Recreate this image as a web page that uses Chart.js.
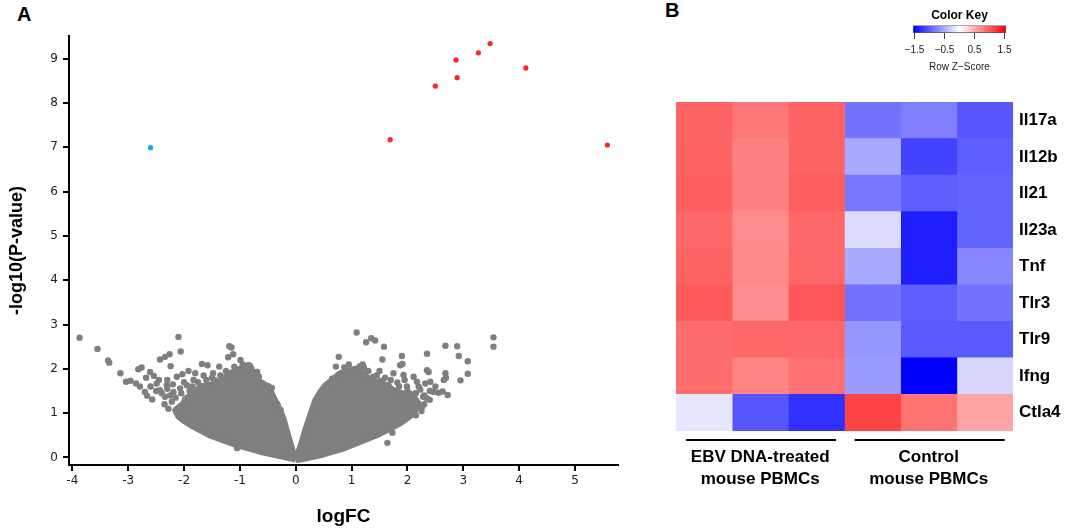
<!DOCTYPE html>
<html>
<head>
<meta charset="utf-8">
<script src="https://cdn.jsdelivr.net/npm/chart.js@4.4.1/dist/chart.umd.min.js"></script>
<style>
body { margin: 0; background: #fff; }
#wrap { position: relative; width: 1065px; height: 529px; overflow: hidden; font-family: 'Liberation Sans', Arial, sans-serif; }
canvas { position: absolute; }
.tag { position: absolute; font-weight: bold; font-size: 20px; line-height: 20px; color: #000; }
</style>
</head>
<body>
<div id="wrap">
  <div class="tag" style="left:17px;top:4px">A</div>
  <div class="tag" style="left:665px;top:0px">B</div>
  <canvas id="volcano" width="630" height="529" style="left:0;top:0"></canvas>
  <canvas id="heat" width="445" height="449" style="left:620px;top:80px"></canvas>
  <canvas id="key" width="160" height="80" style="left:880px;top:0"></canvas>
</div>
<script>
// ---- panel A: volcano plot (logFC, -log10 p) ----
var upGenes = [[1.69, 7.17], [2.50, 8.38], [2.87, 8.97], [2.89, 8.57], [3.27, 9.13], [3.48, 9.34], [4.12, 8.79], [5.58, 7.05]];
var downGenes = [[-2.60, 6.99]];

// outline of the dense grey cloud (each lobe)
var leftLobe = [[0, -0.05], [-0.64, 0.13], [-1.06, 0.28], [-1.54, 0.50], [-1.83, 0.69], [-2.01, 0.83], [-2.10, 0.92],
  [-2.16, 1.07], [-2.01, 1.22], [-1.98, 1.33], [-1.83, 1.44], [-1.71, 1.60], [-1.57, 1.63], [-1.42, 1.67], [-1.30, 1.78],
  [-1.18, 1.90], [-1.06, 1.97], [-0.91, 2.05], [-0.82, 2.08], [-0.70, 1.75], [-0.58, 1.67], [-0.49, 1.60], [-0.40, 1.37],
  [-0.31, 1.14], [-0.22, 0.88], [-0.13, 0.47], [-0.04, 0.09], [0, -0.05]];
var rightLobe = [[0, -0.05], [0.08, 0.24], [0.17, 0.62], [0.26, 0.96], [0.35, 1.29], [0.44, 1.48], [0.53, 1.63], [0.68, 1.78],
  [0.79, 1.90], [0.97, 1.97], [1.09, 2.01], [1.18, 1.93], [1.27, 1.82], [1.42, 1.71], [1.57, 1.67], [1.75, 1.52], [1.93, 1.44],
  [2.11, 1.37], [2.20, 1.22], [2.11, 0.99], [1.99, 0.88], [1.87, 0.77], [1.69, 0.65], [1.45, 0.50], [1.15, 0.35], [0.85, 0.20],
  [0.44, 0.05], [0.08, -0.05], [0, -0.05]];

// scattered grey genes outside the dense cloud
var leftScatter = [[-3.87, 2.70], [-3.55, 2.45], [-3.36, 2.19], [-3.34, 2.14], [-3.14, 1.90], [-3.04, 1.71], [-2.96, 1.73],
  [-2.86, 1.67], [-2.82, 1.99], [-2.76, 2.03], [-2.79, 1.60], [-2.70, 1.48], [-2.66, 1.39], [-2.57, 1.31], [-2.68, 1.80],
  [-2.61, 1.93], [-2.54, 1.84], [-2.49, 1.67], [-2.43, 2.21], [-2.34, 2.27], [-2.26, 2.33], [-2.24, 2.06], [-2.10, 2.72],
  [-2.06, 2.39], [-2.43, 1.52], [-2.34, 1.37], [-2.31, 1.63], [-2.19, 1.48], [-2.22, 1.26], [-2.13, 1.82], [-2.03, 1.88],
  [-1.92, 1.95], [-2.07, 1.56], [-1.95, 1.63], [-1.83, 1.75], [-1.68, 2.11], [-1.58, 2.08], [-1.48, 1.90], [-1.37, 2.05],
  [-1.19, 2.51], [-1.15, 2.48], [-1.21, 2.26], [-1.12, 2.33], [-0.99, 2.20], [-0.85, 2.08], [-0.81, 2.01], [-0.69, 1.93],
  [-0.66, 1.82], [-0.49, 1.61], [-0.43, 1.57], [-0.33, 1.20], [-0.27, 1.07], [-1.05, 0.21],
  [-2.40, 1.45], [-2.30, 1.55], [-2.25, 1.40], [-2.15, 1.35], [-2.05, 1.45], [-1.90, 1.50], [-1.85, 1.60], [-1.75, 1.70],
  [-1.60, 1.75], [-1.50, 1.80], [-1.45, 1.75], [-1.35, 1.85], [-1.25, 1.95], [-1.10, 2.05], [-0.95, 2.10], [-2.50, 1.50],
  [-2.60, 1.60], [-2.45, 1.75], [-2.30, 1.75], [-2.20, 1.65], [-2.00, 1.70], [-1.65, 1.85], [-1.80, 1.90], [-2.35, 1.20],
  [-2.28, 1.10]];
var rightScatter = [[1.09, 2.82], [1.26, 2.60], [1.35, 2.69], [1.42, 2.64], [1.58, 2.50], [0.77, 2.27], [1.55, 2.21],
  [1.90, 2.29], [1.87, 2.08], [1.91, 2.11], [2.35, 2.34], [2.68, 2.52], [2.89, 2.51], [2.92, 2.29], [3.08, 2.17], [3.08, 1.89],
  [2.95, 1.74], [3.54, 2.71], [3.54, 2.50], [2.68, 1.90], [2.69, 1.80], [2.65, 1.75], [2.47, 1.48], [2.56, 1.46], [2.63, 1.49],
  [2.72, 1.41], [2.35, 1.97], [2.38, 1.93], [2.32, 1.67], [2.23, 1.53], [2.28, 1.37], [2.05, 1.44], [2.12, 1.26], [2.18, 1.14],
  [1.73, 0.56], [1.64, 0.33], [0.72, 2.05], [0.87, 2.03], [1.00, 1.90], [1.15, 2.06], [1.22, 2.03], [1.39, 1.82], [1.52, 1.73],
  [1.66, 1.63], [1.82, 1.69], [1.99, 1.60], [2.17, 1.71], [1.75, 1.90], [2.11, 1.82], [1.93, 1.86], [2.41, 1.71], [1.99, 1.26],
  [2.26, 1.14], [2.35, 1.33], [1.90, 1.07], [0.56, 1.63], [0.65, 1.78],
  [1.30, 1.95], [1.45, 1.85], [1.60, 1.80], [1.70, 1.75], [1.85, 1.60], [2.00, 1.50], [2.15, 1.45], [2.30, 1.40], [2.40, 1.30],
  [2.30, 1.20], [2.25, 1.05], [2.40, 1.50], [2.50, 1.60], [2.20, 1.60], [1.95, 1.75], [1.50, 1.95], [1.20, 2.10], [0.95, 2.10],
  [2.05, 1.10], [2.15, 0.95]];

// ---- panel B: heatmap (row z-scores) ----
var genes = ['Il17a', 'Il12b', 'Il21', 'Il23a', 'Tnf', 'Tlr3', 'Tlr9', 'Ifng', 'Ctla4'];
var samples = ['EBV 1', 'EBV 2', 'EBV 3', 'Control 1', 'Control 2', 'Control 3'];
var groupLabels = [['EBV DNA-treated', 'mouse PBMCs'], ['Control', 'mouse PBMCs']];
var zIl17a = [0.94, 0.82, 0.94, -0.85, -0.77, -1.03];
var zIl12b = [0.95, 0.77, 0.94, -0.52, -1.15, -0.97];
var zIl21 = [0.97, 0.77, 0.98, -0.82, -0.97, -0.94];
var zIl23a = [0.92, 0.70, 0.91, -0.21, -1.37, -0.94];
var zTnf = [0.94, 0.71, 0.92, -0.52, -1.37, -0.73];
var zTlr3 = [1.00, 0.69, 1.02, -0.85, -0.97, -0.85];
var zTlr9 = [0.89, 0.93, 0.92, -0.64, -1.00, -1.00];
var zIfng = [0.89, 0.74, 0.87, -0.61, -1.55, -0.24];
var zCtla4 = [-0.15, -1.03, -1.25, 1.14, 0.85, 0.55];
var zRows = [zIl17a, zIl12b, zIl21, zIl23a, zTnf, zTlr3, zTlr9, zIfng, zCtla4];

var zLimit = 1.55;
var keyTicks = [-1.5, -0.5, 0.5, 1.5];

function toPts(arr) {
  return arr.map(function (p) { return { x: p[0], y: p[1] }; });
}

// blue - white - red
function zColor(z) {
  var t = Math.max(-1, Math.min(1, z / zLimit));
  var v = Math.round(255 * (1 - Math.abs(t)));
  return t >= 0 ? 'rgb(255,' + v + ',' + v + ')' : 'rgb(' + v + ',' + v + ',255)';
}

var grey = '#7f7f7f';
var tickFont = { family: 'DejaVu Sans', size: 12 };

function lobe(data) {
  return {
    type: 'line', data: toPts(data), showLine: true, fill: 'shape',
    backgroundColor: grey, borderColor: grey, borderWidth: 6, borderJoinStyle: 'round',
    pointRadius: 0, tension: 0
  };
}

new Chart(document.getElementById('volcano'), {
  type: 'scatter',
  data: {
    datasets: [
      { data: toPts(upGenes), backgroundColor: '#ff2424', borderWidth: 0, pointRadius: 2.6 },
      { data: toPts(downGenes), backgroundColor: '#1aa9ef', borderWidth: 0, pointRadius: 2.6 },
      { data: toPts(leftScatter.concat(rightScatter)), backgroundColor: grey, borderWidth: 0, pointRadius: 3.2 },
      lobe(leftLobe),
      lobe(rightLobe)
    ]
  },
  options: {
    responsive: false,
    animation: false,
    layout: { padding: { top: 36, right: 12, left: 0, bottom: 0 } },
    plugins: { legend: { display: false }, tooltip: { enabled: false } },
    scales: {
      x: {
        type: 'linear', min: -4.06, max: 5.77,
        afterFit: function (s) { s.height = 64; },
        border: { color: '#000', width: 2 },
        grid: { drawOnChartArea: false, color: '#000', lineWidth: 2, tickLength: 6 },
        ticks: { stepSize: 1, includeBounds: false, color: '#222', font: tickFont, padding: 3 },
        title: { display: true, text: 'logFC', color: '#000', font: { family: 'Liberation Sans', size: 19, weight: 'bold' }, padding: { top: 0, bottom: 1 } }
      },
      y: {
        min: -0.17, max: 9.51,
        afterFit: function (s) { s.width = 69; },
        border: { color: '#000', width: 2 },
        grid: { drawOnChartArea: false, color: '#000', lineWidth: 2, tickLength: 6 },
        ticks: { stepSize: 1, includeBounds: false, color: '#222', font: tickFont, padding: 5 },
        title: { display: true, text: '-log10(P-value)', color: '#000', font: { family: 'Liberation Sans', size: 18, weight: 'bold' }, padding: { top: 6, bottom: 0 } }
      }
    }
  }
});

// lines under the two sample groups
var groupLines = {
  id: 'groupLines',
  afterDraw: function (chart) {
    var ctx = chart.ctx, x = chart.scales.x, y = chart.chartArea.bottom + 9;
    ctx.save();
    ctx.strokeStyle = '#000';
    ctx.lineWidth = 2;
    [[0, 3], [3, 6]].forEach(function (g) {
      ctx.beginPath();
      ctx.moveTo(x.getPixelForValue(g[0] + 0.18), y);
      ctx.lineTo(x.getPixelForValue(g[1] - 0.15), y);
      ctx.stroke();
    });
    ctx.restore();
  }
};

var boldFont = { family: 'Liberation Sans', size: 17, weight: 'bold' };

new Chart(document.getElementById('heat'), {
  type: 'bar',
  data: {
    labels: genes,
    datasets: samples.map(function (s, j) {
      return {
        label: s,
        data: genes.map(function () { return 1; }),
        backgroundColor: zRows.map(function (r) { return zColor(r[j]); }),
        borderWidth: 0,
        barPercentage: 1,
        categoryPercentage: 1
      };
    })
  },
  options: {
    indexAxis: 'y',
    responsive: false,
    animation: false,
    layout: { padding: { top: 22, left: 56, right: 0, bottom: 0 } },
    plugins: { legend: { display: false }, tooltip: { enabled: false } },
    scales: {
      x: { type: 'linear', stacked: true, min: 0, max: 6, display: false },
      y: {
        type: 'category', position: 'right', stacked: true,
        grid: { display: false, drawTicks: false, tickLength: 0 }, border: { display: false },
        afterFit: function (s) { s.width = 52; },
        ticks: { color: '#000', font: boldFont, padding: 6 }
      },
      g: {
        type: 'category', position: 'bottom', labels: groupLabels, offset: true,
        grid: { display: false, drawTicks: false, tickLength: 0 }, border: { display: false },
        afterFit: function (s) { s.height = 98; },
        ticks: { color: '#000', font: { family: 'Liberation Sans', size: 17, weight: 'bold', lineHeight: 1.27 }, padding: 16, maxRotation: 0, autoSkip: false }
      }
    }
  },
  plugins: [groupLines]
});

// colour key
new Chart(document.getElementById('key'), {
  type: 'bar',
  data: {
    labels: ['key'],
    datasets: [{
      data: [[-zLimit, zLimit]],
      backgroundColor: function (c) {
        var chart = c.chart, xs = chart.scales.x;
        if (!chart.chartArea || !xs) return '#fff';
        var grad = chart.ctx.createLinearGradient(xs.getPixelForValue(-zLimit), 0, xs.getPixelForValue(zLimit), 0);
        grad.addColorStop(0, zColor(-zLimit));
        grad.addColorStop(0.5, zColor(0));
        grad.addColorStop(1, zColor(zLimit));
        return grad;
      },
      borderColor: '#555',
      borderWidth: 1,
      borderSkipped: false,
      barPercentage: 1,
      categoryPercentage: 1
    }]
  },
  options: {
    indexAxis: 'y',
    responsive: false,
    animation: false,
    layout: { padding: { left: 33, right: 34, top: 0, bottom: 0 } },
    plugins: {
      legend: { display: false }, tooltip: { enabled: false },
      title: { display: true, text: 'Color Key', color: '#000', font: { family: 'Liberation Sans', size: 12, weight: 'bold' }, padding: { top: 8, bottom: 3 } }
    },
    scales: {
      y: { display: false },
      x: {
        min: -zLimit, max: zLimit,
        afterFit: function (s) { s.height = 47; },
        border: { display: false },
        grid: { drawOnChartArea: false, color: '#444', lineWidth: 1, tickLength: 6 },
        ticks: {
          stepSize: 0.5, includeBounds: false, color: '#222', padding: 5,
          font: { family: 'Liberation Sans', size: 10 },
          callback: function (v) { return keyTicks.indexOf(v) >= 0 ? String(v).replace('-', '\u2212') : ''; }
        },
        title: { display: true, text: 'Row Z\u2212Score', color: '#222', font: { family: 'Liberation Sans', size: 10 }, padding: { top: 0, bottom: 7 } }
      }
    }
  }
});
</script>
</body>
</html>
